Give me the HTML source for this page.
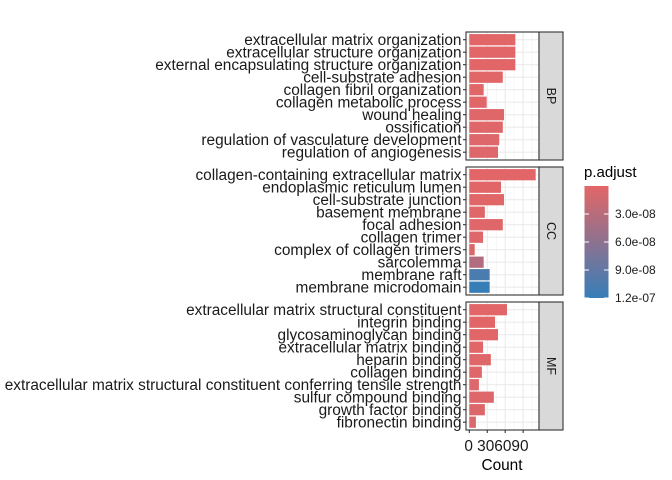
<!DOCTYPE html>
<html><head><meta charset="utf-8"><style>
html,body{margin:0;padding:0;background:#fff;}
svg{display:block;font-family:"Liberation Sans",sans-serif;}
</style></head><body>
<svg id="chart" width="672" height="480">
<defs><linearGradient id="lg" x1="0" y1="0" x2="0" y2="1"><stop offset="0" stop-color="#E36667"/><stop offset="1" stop-color="#377EB8"/></linearGradient></defs>
</svg>
<script>
const bpTerms=["extracellular matrix organization","extracellular structure organization","external encapsulating structure organization","cell-substrate adhesion","collagen fibril organization","collagen metabolic process","wound healing","ossification","regulation of vasculature development","regulation of angiogenesis"];
const bpCounts=[77,77,77,56,24,29,58,56,50,48];
const bpPadj=[1e-9,1e-9,1e-9,2e-9,2e-9,2e-9,3e-9,3e-9,4e-9,4e-9];
const ccTerms=["collagen-containing extracellular matrix","endoplasmic reticulum lumen","cell-substrate junction","basement membrane","focal adhesion","collagen trimer","complex of collagen trimers","sarcolemma","membrane raft","membrane microdomain"];
const ccCounts=[111,53,58,26,56,23,9,24,34,34];
const ccPadj=[1e-9,2e-9,2e-9,3e-9,3e-9,4e-9,5e-9,3.5e-8,1.05e-7,1.2e-7];
const mfTerms=["extracellular matrix structural constituent","integrin binding","glycosaminoglycan binding","extracellular matrix binding","heparin binding","collagen binding","extracellular matrix structural constituent conferring tensile strength","sulfur compound binding","growth factor binding","fibronectin binding"];
const mfCounts=[63,43,48,23,36,21,16,41,26,11];
const mfPadj=[1e-9,1e-9,2e-9,2e-9,3e-9,3e-9,4e-9,4e-9,5e-9,6e-9];
const xTicks=[0,30,60,90];
const legendTicks=[3e-8,6e-8,9e-8,1.2e-7];
const legendLabels=["3.0e-08","6.0e-08","9.0e-08","1.2e-07"];

const NS="http://www.w3.org/2000/svg";
const svg=document.getElementById('chart');
function mk(tag,attrs,parent){const e=document.createElementNS(NS,tag);for(const k in attrs)e.setAttribute(k,attrs[k]);(parent||svg).appendChild(e);return e;}
const allCounts=bpCounts.concat(ccCounts,mfCounts);
const maxC=Math.max(...allCounts);
const PL=466,PR=539;
const dMin=-0.05*maxC,dMax=1.05*maxC;
const xs=v=>PL+(v-dMin)/(dMax-dMin)*(PR-PL);
const pMin=0,pMax=1.2e-7;
function col(p){const t=Math.max(0,Math.min(1,(p-pMin)/(pMax-pMin)));const a=[227,102,103],b=[55,126,184];return `rgb(${a.map((c,i)=>Math.round(c+(b[i]-c)*t)).join(',')})`;}
const panels=[{name:"BP",terms:bpTerms,counts:bpCounts,padj:bpPadj,top:32},{name:"CC",terms:ccTerms,counts:ccCounts,padj:ccPadj,top:167},{name:"MF",terms:mfTerms,counts:mfCounts,padj:mfPadj,top:302}];
const PH=128,step=12.5;
panels.forEach(p=>{
  const g=mk('g',{});
  
  
  mk('rect',{x:PL,y:p.top,width:PR-PL,height:PH,fill:'#fff'},g);
  for(let v=15;v<dMax;v+=30){mk('line',{x1:xs(v),x2:xs(v),y1:p.top,y2:p.top+PH,stroke:'#F2F2F2','stroke-width':0.6},g);}
  xTicks.forEach(v=>{const l=mk('line',{x1:xs(v),x2:xs(v),y1:p.top,y2:p.top+PH,stroke:'#EBEBEB','stroke-width':1.1},g);
    });
  const yc=i=>p.top+0.6*step+0.2+i*step;
  p.terms.forEach((t,i)=>{mk('line',{x1:PL,x2:PR,y1:yc(i),y2:yc(i),stroke:'#EBEBEB','stroke-width':1.1},g);});
  p.counts.forEach((c,i)=>{
    const r=mk('rect',{x:xs(0),y:yc(i)-0.45*step,width:xs(c)-xs(0),height:0.9*step,fill:col(p.padj[i])},g);
    
    
    mk('line',{x1:PL-3,x2:PL,y1:yc(i),y2:yc(i),stroke:'#333','stroke-width':1.1},g);
    const tx=mk('text',{x:PL-4.5,y:yc(i)+5.3,'text-anchor':'end','font-size':'15.4px',fill:'#1A1A1A'},g);
    tx.textContent=p.terms[i];
    
    
  });
  mk('rect',{x:PL,y:p.top,width:PR-PL,height:PH,fill:'none',stroke:'#333','stroke-width':1.1},g);
  const s=mk('rect',{x:PR,y:p.top,width:24,height:PH,fill:'#D9D9D9',stroke:'#333','stroke-width':1.1},g);
  
  
  const st=mk('text',{x:0,y:0,'text-anchor':'middle','font-size':'12.5px',fill:'#1A1A1A',transform:`translate(${PR+8},${p.top+PH/2}) rotate(90)`},g);
  st.textContent=p.name;
  
  
});
xTicks.forEach(v=>{
  mk('line',{x1:xs(v),x2:xs(v),y1:430,y2:433,stroke:'#333','stroke-width':1.1});
});
const xl=mk('text',{x:xs(0)-5,y:451,'font-size':'15.4px',fill:'#1A1A1A'});
xl.textContent='0 306090';


const xt=mk('text',{x:502,y:470,'text-anchor':'middle','font-size':'15.4px',fill:'#000'});
xt.textContent='Count';


const LT=186,LB=298;
const ly=v=>LT+(v-pMin)/(pMax-pMin)*(LB-LT);
const lt=mk('text',{x:584,y:177,'font-size':'15px',fill:'#000'});
lt.textContent='p.adjust';


const lb=mk('rect',{x:584.5,y:LT,width:24,height:LB-LT,fill:'url(#lg)'});


legendTicks.forEach((v,i)=>{
  mk('line',{x1:584.5,x2:589,y1:ly(v),y2:ly(v),stroke:'#fff','stroke-width':1});
  mk('line',{x1:604,x2:608.5,y1:ly(v),y2:ly(v),stroke:'#fff','stroke-width':1});
  const t=mk('text',{x:615,y:ly(v)+4,'font-size':'12px',fill:'#1A1A1A'});
  t.textContent=legendLabels[i];
  
  
});
</script>
</body></html>
